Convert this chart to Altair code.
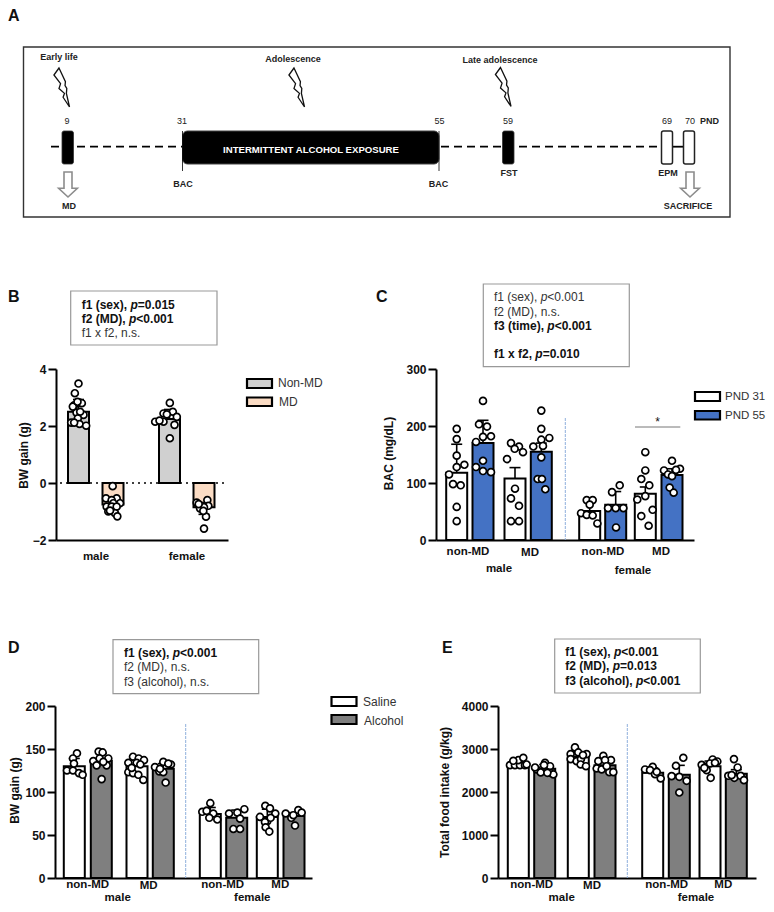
import altair as alt
import pandas as pd

FONT = "Liberation Sans"
INK = "#111111"
GREY_TXT = "#333333"

# ---------------- Panel B data ----------------
B_MEANS = [2.5, -0.75, 2.25, -0.85]
B_ERR = [2.93, -1.0, 2.58, -1.1]
B_SERIES = ["Non-MD", "MD", "Non-MD", "MD"]
B1_Y = [3.49, 3.15, 2.82, 2.73, 2.8, 2.47, 2.39, 2.27, 2.12, 2.07, 2.01, 2.68, 2.85, 2.5, 2.12]
B1_J = [0, -11, 3, -13, 10, -6, 15, -2, -22, 3, 23, -17, -3, 5, -13]
B2_Y = [-0.11, -0.54, -0.54, -0.6, -0.71, -0.71, -0.83, -0.83, -0.83, -1.0, -1.06, -1.17, -0.97]
B2_J = [-1, -21, 11, -4, 21, 1, -19, -4, 11, -14, 6, 13, -9]
B3_Y = [2.81, 2.44, 2.5, 2.41, 2.32, 2.15, 2.15, 2.04, 1.57, 2.19]
B3_J = [1, -18, 10, -8, 22, -43, -18, 15, 1, -30]
B4_Y = [-0.6, -0.69, -0.8, -0.8, -0.89, -0.85, -1.18, -1.6, -0.98, -0.74]
B4_J = [10, -22, -7, 13, -12, 0, 6, 0, -2, -16]

# ---------------- Panel C data ----------------
C_MEANS = [118, 170, 108, 155, 51, 62, 81, 114]
C_ERR = [168, 210, 127, 170, 68, 85, 93, 125]
C_SERIES = ["PND 31", "PND 55"] * 4
C1_Y = [195, 177, 148, 128, 132, 115, 98, 96, 58, 33]
C1_J = [0, 0, 0, 0, 23, -23, -11, 12, 0, 0]
C2_Y = [244, 203, 199, 181, 182, 172, 139, 128, 121, 119]
C2_J = [0, -12, 12, 0, 24, -21, 0, -21, 0, 24]
C3_Y = [170, 164, 160, 154, 142, 90, 73, 60, 33, 33]
C3_J = [-12, 12, -1, 24, -24, 0, -12, 12, -12, 12]
C4_Y = [227, 195, 176, 179, 164, 145, 107, 107, 89, 165]
C4_J = [0, 0, 0, 24, -24, 0, -11, 2, 12, 5]
C5_Y = [70, 70, 62, 47, 44, 43, 29]
C5_J = [-9, 9, 0, -26, -9, 9, 23]
C6_Y = [84, 96, 56, 56, 56, 22]
C6_J = [-11, 12, -23, 0, 23, 1]
C7_Y = [154, 122, 107, 96, 77, 71, 53, 42, 25]
C7_J = [0, 0, -12, 12, 0, -24, 22, -12, 10]
C8_Y = [139, 122, 125, 115, 123, 112, 92, 83]
C8_J = [0, -24, 24, -12, 12, 0, -7, 5]

# ---------------- Panel D data ----------------
D_MEANS = [130, 136, 130, 127, 74.5, 70, 71, 72]
D_ERR = [139, 145, 137, 133, 82, 79, 80, 76]
D_SERIES = ["Saline", "Alcohol"] * 4
D1_Y = [145, 139, 125, 125, 122, 120, 133]
D1_J = [8, -4, -22, -4, 14, 25, -1]
D2_Y = [147, 146, 136, 139, 139, 131, 131, 115, 135]
D2_J = [-8, 4, -24, 21, -5, 16, -14, 1, 6]
D3_Y = [141, 139, 137, 134, 134, 132, 123, 122, 120, 114, 128]
D3_J = [-12, 5, 21, -26, -1, 10, -26, -12, 4, 19, -16]
D4_Y = [135, 132, 129, 124, 123, 111, 127, 133]
D4_J = [0, 23, -25, -12, 0, 7, -10, 15]
D5_Y = [87, 77, 78, 75, 70, 68]
D5_J = [0, -24, -11, 9, -3, 21]
D6_Y = [75, 76, 80, 69, 57, 57]
D6_J = [-23, 2, 23, 10, -10, 10]
D7_Y = [84, 81, 71, 75, 66, 65, 70, 59, 54]
D7_J = [-6, 8, -22, 24, 0, -7, 10, -5, 6]
D8_Y = [75, 70, 79, 76, 61, 73]
D8_J = [-25, -8, 13, 23, 3, -2]

# ---------------- Panel E data ----------------
E_MEANS = [2600, 2540, 2820, 2625, 2446, 2400, 2600, 2423]
E_ERR = [2720, 2640, 2930, 2740, 2560, 2620, 2720, 2520]
E_SERIES = ["Saline", "Alcohol"] * 4
E1_Y = [2625, 2625, 2625, 2625, 2740, 2796, 2726, 2640]
E1_J = [-25, -10, 5, 20, 0, 15, -15, 25]
E2_Y = [2524, 2454, 2680, 2600, 2446, 2408, 2570, 2625, 2446]
E2_J = [-24, -12, 1, 16, 16, 26, -29, -2, 8]
E3_Y = [3037, 2881, 2920, 2881, 2765, 2718, 2765, 2640, 2600, 2858]
E3_J = [-10, -23, 0, 25, -23, -5, 8, 7, 23, 14]
E4_Y = [2843, 2718, 2741, 2741, 2547, 2524, 2462, 2462, 2600]
E4_J = [-5, -20, 18, 0, -25, -10, 13, 25, 5]
E5_Y = [2524, 2586, 2508, 2415, 2314, 2470]
E5_J = [-23, 0, -8, 7, 24, 12]
E6_Y = [2796, 2610, 2369, 2353, 2260, 1988]
E6_J = [12, -10, -23, 0, 22, 0]
E7_Y = [2757, 2710, 2633, 2586, 2664, 2680, 2508, 2330, 2560]
E7_J = [8, 22, -25, -12, 0, 15, -10, 2, -17]
E8_Y = [2765, 2571, 2377, 2330, 2377, 2275, 2392]
E8_J = [-7, 4, -24, -6, 13, 23, -14]

# ---------------- Panel A data ----------------
PND_DAYS = [9, 31, 55, 59, 69, 70]
EXPOSURE_START = 31
EXPOSURE_END = 55
PND_LABELS = ["9", "31", "55", "59", "69", "70"]

# ---------------- Layout (page pixels) ----------------
COL1_X, COL2_X = 55, 436
COL1_W, COL2_W = 381, 320
ROW_A_Y, ROW_A_H = 8, 195
ROW_2_Y, ROW_2_H = 369, 171
ROW_3_Y, ROW_3_H = 706, 172
BAR_HALF = 10.5
CAP_HALF = 5.5

COLORS = {
    "Non-MD": "#d0d0d0", "MD": "#fbdcc4",
    "PND 31": "#ffffff", "PND 55": "#4472c4",
    "Saline": "#ffffff", "Alcohol": "#7f7f7f",
}

W_BOLD = {"f": .333, "1": .556, "2": .556, "3": .556, " ": .278, "(": .333, ")": .333, "s": .556, "e": .556,
          "x": .556, ",": .278, "p": .611, "=": .584, "<": .584, "0": .556, "5": .556, ".": .278, "M": .833,
          "D": .722, "n": .611, "t": .333, "i": .278, "m": .889, "a": .556, "l": .278, "c": .556, "o": .611, "h": .611}
W_REG = {"f": .278, "1": .556, "2": .556, "3": .556, " ": .278, "(": .333, ")": .333, "s": .5, "e": .556,
         "x": .5, ",": .278, "p": .556, "=": .584, "<": .584, "0": .556, "5": .556, ".": .278, "M": .833,
         "D": .722, "n": .556, "t": .278, "i": .222, "m": .833, "a": .556, "l": .222, "c": .5, "o": .556, "h": .556}

ONE = alt.Data(values=[{"k": 0}])


def label(px, py, s, ox, oy, size=12, weight="normal", style="normal", align="left", color=INK, angle=None):
    kw = dict(text=s, font=FONT, fontSize=size, fontWeight=weight, fontStyle=style, align=align,
              baseline="middle", color=color)
    if angle is not None:
        kw["angle"] = angle
    return alt.Chart(ONE).mark_text(**kw).encode(x=alt.value(px - ox), y=alt.value(py - oy))


def rich(px, py, text_line, bold, ox, oy):
    """One annotation line; the p is set in italics, as in the figure."""
    size = 12
    table = W_BOLD if bold else W_REG
    weight = "bold" if bold else "normal"
    color = INK if bold else GREY_TXT
    out = []
    cur = px
    parts = []
    if ", p" in text_line:
        head, tail = text_line.split(", p")
        parts = [(head + ", ", "normal"), ("p", "italic"), (tail, "normal")]
    else:
        parts = [(text_line, "normal")]
    for s, st in parts:
        out.append(label(cur, py, s, ox, oy, size=size, weight=weight, style=st, color=color))
        cur += sum(table.get(c, .55) for c in s) * size
    return out


def box(x1, y1, x2, y2, ox, oy, fill="#ffffff", stroke="#999999", sw=1.2, radius=0):
    kw = dict(fill=fill, stroke=stroke, strokeWidth=sw)
    if radius:
        kw["cornerRadius"] = radius
    return alt.Chart(ONE).mark_rect(**kw).encode(
        x=alt.value(x1 - ox), x2=alt.value(x2 - ox), y=alt.value(y1 - oy), y2=alt.value(y2 - oy))


def bar_panel(ox, oy, w, h, axis_x, axis_end, ydomain, yticks, ytitle, title_x, title_y,
              centres, means, errs, series, groups, zero_from=None):
    rel0, rel1 = axis_x - ox, axis_end - ox
    xs = alt.Scale(domain=[rel0, rel1], range=[rel0, rel1], nice=False, zero=False)
    ys = alt.Scale(domain=ydomain, nice=False, zero=False)
    bars, err, pts = [], [], []
    for i, c in enumerate(centres):
        rc = c - ox
        bars.append(dict(x=rc - BAR_HALF, x2=rc + BAR_HALF, v=means[i], b=0, s=series[i]))
        err.append(dict(x=rc, l=rc - CAP_HALF, r=rc + CAP_HALF, v=means[i], t=errs[i]))
        gy, gj = groups[i]
        for yy, jj in zip(gy, gj):
            pts.append(dict(x=rc + jj / 3.0, v=yy))
    bars, err, pts = pd.DataFrame(bars), pd.DataFrame(err), pd.DataFrame(pts)
    yaxis = alt.Axis(values=yticks, format="d", title=ytitle, titleFont=FONT, titleFontSize=12, titleFontWeight="bold",
                     titleColor=INK, titleX=title_x - axis_x, titleY=title_y - oy, titleBaseline="middle",
                     titleAngle=270, titleAlign="center", labelFont=FONT, labelFontSize=12, labelFontWeight="bold",
                     labelColor=INK, domainColor="#000000", domainWidth=2, tickColor="#000000", tickWidth=2,
                     tickSize=8, labelPadding=2, grid=False, offset=-(axis_x - ox))
    xaxis = alt.Axis(labels=False, ticks=False, title=None, grid=False, domainColor="#000000", domainWidth=2)
    color = alt.Color("s:N", scale=alt.Scale(domain=list(dict.fromkeys(series)),
                                             range=[COLORS[k] for k in dict.fromkeys(series)]), legend=None)
    layers = [
        alt.Chart(bars).mark_rect(stroke="#000000", strokeWidth=2).encode(
            x=alt.X("x:Q", scale=xs, axis=xaxis), x2="x2:Q",
            y=alt.Y("v:Q", scale=ys, axis=yaxis), y2="b:Q", color=color),
    ]
    if zero_from is not None:
        layers.append(alt.Chart(pd.DataFrame({"z": [0]})).mark_rule(
            color="#000000", strokeWidth=1.6, strokeDash=[2, 4]).encode(
            x=alt.value(zero_from - ox), x2=alt.value(axis_end - ox),
            y=alt.Y("z:Q", scale=ys, axis=yaxis)))
    layers += [
        alt.Chart(err).mark_rule(color="#000000", strokeWidth=1.6).encode(
            x=alt.X("x:Q", scale=xs, axis=xaxis), y=alt.Y("v:Q", scale=ys, axis=yaxis), y2="t:Q"),
        alt.Chart(err).mark_rule(color="#000000", strokeWidth=1.6).encode(
            x=alt.X("l:Q", scale=xs, axis=xaxis), x2="r:Q", y=alt.Y("t:Q", scale=ys, axis=yaxis)),
        alt.Chart(pts).mark_point(filled=True, fill="#ffffff", stroke="#000000", strokeWidth=1.7,
                                  opacity=1, fillOpacity=1, size=48).encode(
            x=alt.X("x:Q", scale=xs, axis=xaxis), y=alt.Y("v:Q", scale=ys, axis=yaxis)),
    ]
    return layers


def divider(px, y1, y2, ox, oy):
    return alt.Chart(ONE).mark_rule(color="#8fb0dc", strokeWidth=1, strokeDash=[3, 1]).encode(
        x=alt.value(px - ox), y=alt.value(y1 - oy), y2=alt.value(y2 - oy))


def swatch(x1, y1, x2, y2, key, ox, oy):
    return box(x1, y1, x2, y2, ox, oy, fill=COLORS[key], stroke="#000000", sw=2.2)


# ---------------- Panel A ----------------
ax, ay = COL1_X, ROW_A_Y
PND_PX = [67.5, 182.5, 439, 508, 667, 689]
pnd_scale = alt.Scale(domain=PND_DAYS, range=[p - ax for p in PND_PX], nice=False, zero=False)
BOLT = "M-.18,-1 L-.44,-.64 L-.1,-.2 L-.18,.05 L.1,.3 L.03,.5 L.36,1 L.2,.3 L.22,.05 L.13,-.1 L.15,-.3 L-.18,-1 Z"
ARROW = "M-.32,-1 L.32,-1 L.32,.3 L.75,.3 L0,1 L-.75,.3 L-.32,.3 Z"


def glyph(px, py, shape, size, stroke, sw):
    return alt.Chart(ONE).mark_point(shape=shape, size=size, stroke=stroke, strokeWidth=sw, filled=False,
                                     opacity=1).encode(x=alt.value(px - ax), y=alt.value(py - ay))


def hrule(x1, x2, y, dash=None, sw=1.8, color="#000000"):
    kw = dict(color=color, strokeWidth=sw)
    if dash:
        kw["strokeDash"] = dash
    return alt.Chart(ONE).mark_rule(**kw).encode(x=alt.value(x1 - ax), x2=alt.value(x2 - ax), y=alt.value(y - ay))


def vrule(x, y1, y2):
    return alt.Chart(ONE).mark_rule(color="#000000", strokeWidth=0.8).encode(
        x=alt.value(x - ax), y=alt.value(y1 - ay), y2=alt.value(y2 - ay))


exposure = pd.DataFrame({"a": [EXPOSURE_START], "b": [EXPOSURE_END]})
schem_size = 9
panel_a_layers = [
    label(8, 16, "A", ax, ay, size=16, weight="bold"),
    box(23.5, 47, 730, 217, ax, ay, fill="#ffffff", stroke="#333333", sw=1.4),
    hrule(51, 661, 146.7, dash=[8, 5]),
    hrule(673, 683, 146.7),
    alt.Chart(exposure).mark_rect(fill="#000000", stroke="#444444", strokeWidth=1, cornerRadius=5).encode(
        x=alt.X("a:Q", scale=pnd_scale, axis=None), x2="b:Q", y=alt.value(131 - ay), y2=alt.value(164 - ay)),
    box(62, 131, 73.5, 164, ax, ay, fill="#000000", stroke="#333333", sw=0.8, radius=2),
    box(502.5, 131, 514, 164, ax, ay, fill="#000000", stroke="#333333", sw=0.8, radius=2),
    box(661.5, 131, 672.5, 164, ax, ay, fill="#ffffff", stroke="#222222", sw=1.5, radius=2),
    box(683.5, 131, 694.5, 164, ax, ay, fill="#ffffff", stroke="#222222", sw=1.5, radius=2),
    vrule(182.5, 131, 171),
    vrule(439, 131, 171),
    glyph(62.5, 87.5, BOLT, 1521, "#111111", 1.3),
    glyph(297.5, 87.5, BOLT, 1521, "#111111", 1.3),
    glyph(504, 87, BOLT, 1521, "#111111", 1.3),
    glyph(68, 184.5, ARROW, 625, "#8c8c8c", 1.6),
    glyph(690, 184.5, ARROW, 625, "#8c8c8c", 1.6),
    label(59, 57, "Early life", ax, ay, size=schem_size, weight="bold", align="center", color="#222222"),
    label(293, 59, "Adolescence", ax, ay, size=schem_size, weight="bold", align="center", color="#222222"),
    label(500, 60, "Late adolescence", ax, ay, size=schem_size, weight="bold", align="center", color="#222222"),
    label(311, 150, "INTERMITTENT  ALCOHOL EXPOSURE", ax, ay, size=9.6, weight="bold", align="center", color="#ffffff"),
]
for (lx, lab) in zip([67, 182, 439.5, 508, 667, 690], PND_LABELS):
    panel_a_layers.append(label(lx, 121, lab, ax, ay, size=schem_size, align="center", color="#222222"))
for (lx, ly, lab) in [(709.5, 121, "PND"), (183, 184, "BAC"), (438.5, 184, "BAC"), (509, 173, "FST"),
                      (668, 173, "EPM"), (69, 206, "MD"), (688, 206, "SACRIFICE")]:
    panel_a_layers.append(label(lx, ly, lab, ax, ay, size=schem_size, weight="bold", align="center", color="#222222"))
panel_a = alt.layer(*panel_a_layers).properties(width=COL1_W, height=ROW_A_H)

blank = alt.Chart(ONE).mark_text(text=" ").encode(x=alt.value(20), y=alt.value(60)).properties(
    width=COL2_W, height=ROW_A_H)

# ---------------- Panel B ----------------
bx, by = COL1_X, ROW_2_Y
b_layers = bar_panel(bx, by, COL1_W, ROW_2_H, 56, 228, [-2, 4], [-2, 0, 2, 4], "BW gain (g)", 23, 455,
                     [78.5, 113, 169.5, 204], B_MEANS, B_ERR, B_SERIES,
                     [(B1_Y, B1_J), (B2_Y, B2_J), (B3_Y, B3_J), (B4_Y, B4_J)], zero_from=60)
b_extra = [label(8, 297, "B", bx, by, size=16, weight="bold"),
           box(70.7, 291, 217, 345, bx, by),
           swatch(247, 379, 272, 388, "Non-MD", bx, by), swatch(247, 397.5, 272, 406, "MD", bx, by),
           label(278, 383, "Non-MD", bx, by, color=GREY_TXT), label(279, 402, "MD", bx, by, color=GREY_TXT),
           label(96, 557, "male", bx, by, size=11.5, weight="bold", align="center"),
           label(187, 557, "female", bx, by, size=11.5, weight="bold", align="center")]
b_extra += rich(81.7, 304.7, "f1 (sex), p=0.015", True, bx, by)
b_extra += rich(81.7, 319, "f2 (MD), p<0.001", True, bx, by)
b_extra += rich(81.7, 333, "f1 x f2, n.s.", False, bx, by)
panel_b = alt.layer(*(b_layers + b_extra)).properties(width=COL1_W, height=ROW_2_H)

# ---------------- Panel C ----------------
cx, cy = COL2_X, ROW_2_Y
c_layers = bar_panel(cx, cy, COL2_W, ROW_2_H, 436, 694, [0, 300], [0, 100, 200, 300], "BAC (mg/dL)", 388, 453,
                     [456.7, 483, 515, 541.3, 589.7, 615.7, 645.3, 672], C_MEANS, C_ERR, C_SERIES,
                     [(C1_Y, C1_J), (C2_Y, C2_J), (C3_Y, C3_J), (C4_Y, C4_J),
                      (C5_Y, C5_J), (C6_Y, C6_J), (C7_Y, C7_J), (C8_Y, C8_J)])
c_extra = [divider(565.3, 418, 540, cx, cy),
           alt.Chart(ONE).mark_rule(color="#777777", strokeWidth=1).encode(
               x=alt.value(635 - cx), x2=alt.value(680.3 - cx), y=alt.value(427 - cy)),
           label(657.7, 421.5, "*", cx, cy, size=12, align="center"),
           label(376, 297, "C", cx, cy, size=16, weight="bold"),
           box(483.3, 284, 629.3, 366.7, cx, cy),
           swatch(695, 392, 720, 401, "PND 31", cx, cy), swatch(695, 411, 720, 419.5, "PND 55", cx, cy),
           label(725, 397, "PND 31", cx, cy, size=11.5, color=GREY_TXT),
           label(725, 416, "PND 55", cx, cy, size=11.5, color=GREY_TXT),
           label(468, 552, "non-MD", cx, cy, size=11.5, weight="bold", align="center"),
           label(530, 553, "MD", cx, cy, size=11.5, weight="bold", align="center"),
           label(603, 552, "non-MD", cx, cy, size=11.5, weight="bold", align="center"),
           label(661, 552, "MD", cx, cy, size=11.5, weight="bold", align="center"),
           label(499, 569, "male", cx, cy, size=11.5, weight="bold", align="center"),
           label(633, 571, "female", cx, cy, size=11.5, weight="bold", align="center")]
c_extra += rich(494, 297.3, "f1 (sex), p<0.001", False, cx, cy)
c_extra += rich(494, 311.7, "f2 (MD), n.s.", False, cx, cy)
c_extra += rich(494, 325.7, "f3 (time), p<0.001", True, cx, cy)
c_extra += rich(494, 354.3, "f1 x f2, p=0.010", True, cx, cy)
panel_c = alt.layer(*(c_layers + c_extra)).properties(width=COL2_W, height=ROW_2_H)

# ---------------- Panel D ----------------
dx, dy = COL1_X, ROW_3_Y
d_layers = bar_panel(dx, dy, COL1_W, ROW_3_H, 55, 312, [0, 200], [0, 50, 100, 150, 200], "BW gain (g)", 14, 790,
                     [74.3, 101.3, 137, 163.3, 210.3, 236.7, 267.3, 294], D_MEANS, D_ERR, D_SERIES,
                     [(D1_Y, D1_J), (D2_Y, D2_J), (D3_Y, D3_J), (D4_Y, D4_J),
                      (D5_Y, D5_J), (D6_Y, D6_J), (D7_Y, D7_J), (D8_Y, D8_J)])
d_extra = [divider(185.7, 724, 878, dx, dy),
           label(8, 648, "D", dx, dy, size=16, weight="bold"),
           box(113, 639.7, 258.7, 693.7, dx, dy),
           swatch(331.5, 697, 356.5, 706, "Saline", dx, dy), swatch(331.5, 715, 356.5, 724, "Alcohol", dx, dy),
           label(363, 702, "Saline", dx, dy, color=GREY_TXT), label(364, 721, "Alcohol", dx, dy, color=GREY_TXT),
           label(87.7, 885, "non-MD", dx, dy, size=11.5, weight="bold", align="center"),
           label(148.7, 886, "MD", dx, dy, size=11.5, weight="bold", align="center"),
           label(222.7, 885, "non-MD", dx, dy, size=11.5, weight="bold", align="center"),
           label(280.3, 885, "MD", dx, dy, size=11.5, weight="bold", align="center"),
           label(117.7, 897.5, "male", dx, dy, size=11.5, weight="bold", align="center"),
           label(252.3, 897.5, "female", dx, dy, size=11.5, weight="bold", align="center")]
d_extra += rich(124, 652.7, "f1 (sex), p<0.001", True, dx, dy)
d_extra += rich(124, 667.3, "f2 (MD), n.s.", False, dx, dy)
d_extra += rich(124, 682, "f3 (alcohol), n.s.", False, dx, dy)
panel_d = alt.layer(*(d_layers + d_extra)).properties(width=COL1_W, height=ROW_3_H)

# ---------------- Panel E ----------------
ex, ey = COL2_X, ROW_3_Y
e_layers = bar_panel(ex, ey, COL2_W, ROW_3_H, 498, 756, [0, 4000], [0, 1000, 2000, 3000, 4000],
                     "Total food intake (g/kg)", 444, 792,
                     [518.3, 544.7, 578.3, 605, 652.7, 679.3, 710, 736.3], E_MEANS, E_ERR, E_SERIES,
                     [(E1_Y, E1_J), (E2_Y, E2_J), (E3_Y, E3_J), (E4_Y, E4_J),
                      (E5_Y, E5_J), (E6_Y, E6_J), (E7_Y, E7_J), (E8_Y, E8_J)])
e_extra = [divider(627.3, 724, 878, ex, ey),
           label(442, 648, "E", ex, ey, size=16, weight="bold"),
           box(554.7, 639, 700.3, 693, ex, ey),
           label(531.7, 885, "non-MD", ex, ey, size=11.5, weight="bold", align="center"),
           label(592, 886, "MD", ex, ey, size=11.5, weight="bold", align="center"),
           label(666.7, 885, "non-MD", ex, ey, size=11.5, weight="bold", align="center"),
           label(723.3, 885, "MD", ex, ey, size=11.5, weight="bold", align="center"),
           label(561.7, 897.5, "male", ex, ey, size=11.5, weight="bold", align="center"),
           label(696, 897.5, "female", ex, ey, size=11.5, weight="bold", align="center")]
e_extra += rich(565.3, 652.3, "f1 (sex), p<0.001", True, ex, ey)
e_extra += rich(565.3, 666, "f2 (MD), p=0.013", True, ex, ey)
e_extra += rich(565.3, 680.7, "f3 (alcohol), p<0.001", True, ex, ey)
panel_e = alt.layer(*(e_layers + e_extra)).properties(width=COL2_W, height=ROW_3_H)

chart = alt.concat(panel_a, blank, panel_b, panel_c, panel_d, panel_e, columns=2, bounds="flush",
                   spacing={"row": 166, "column": 0}).properties(
    padding=0
).resolve_scale(color="independent").configure_view(stroke=None)

chart.save("out.html", embed_options={"renderer": "svg", "actions": False})
